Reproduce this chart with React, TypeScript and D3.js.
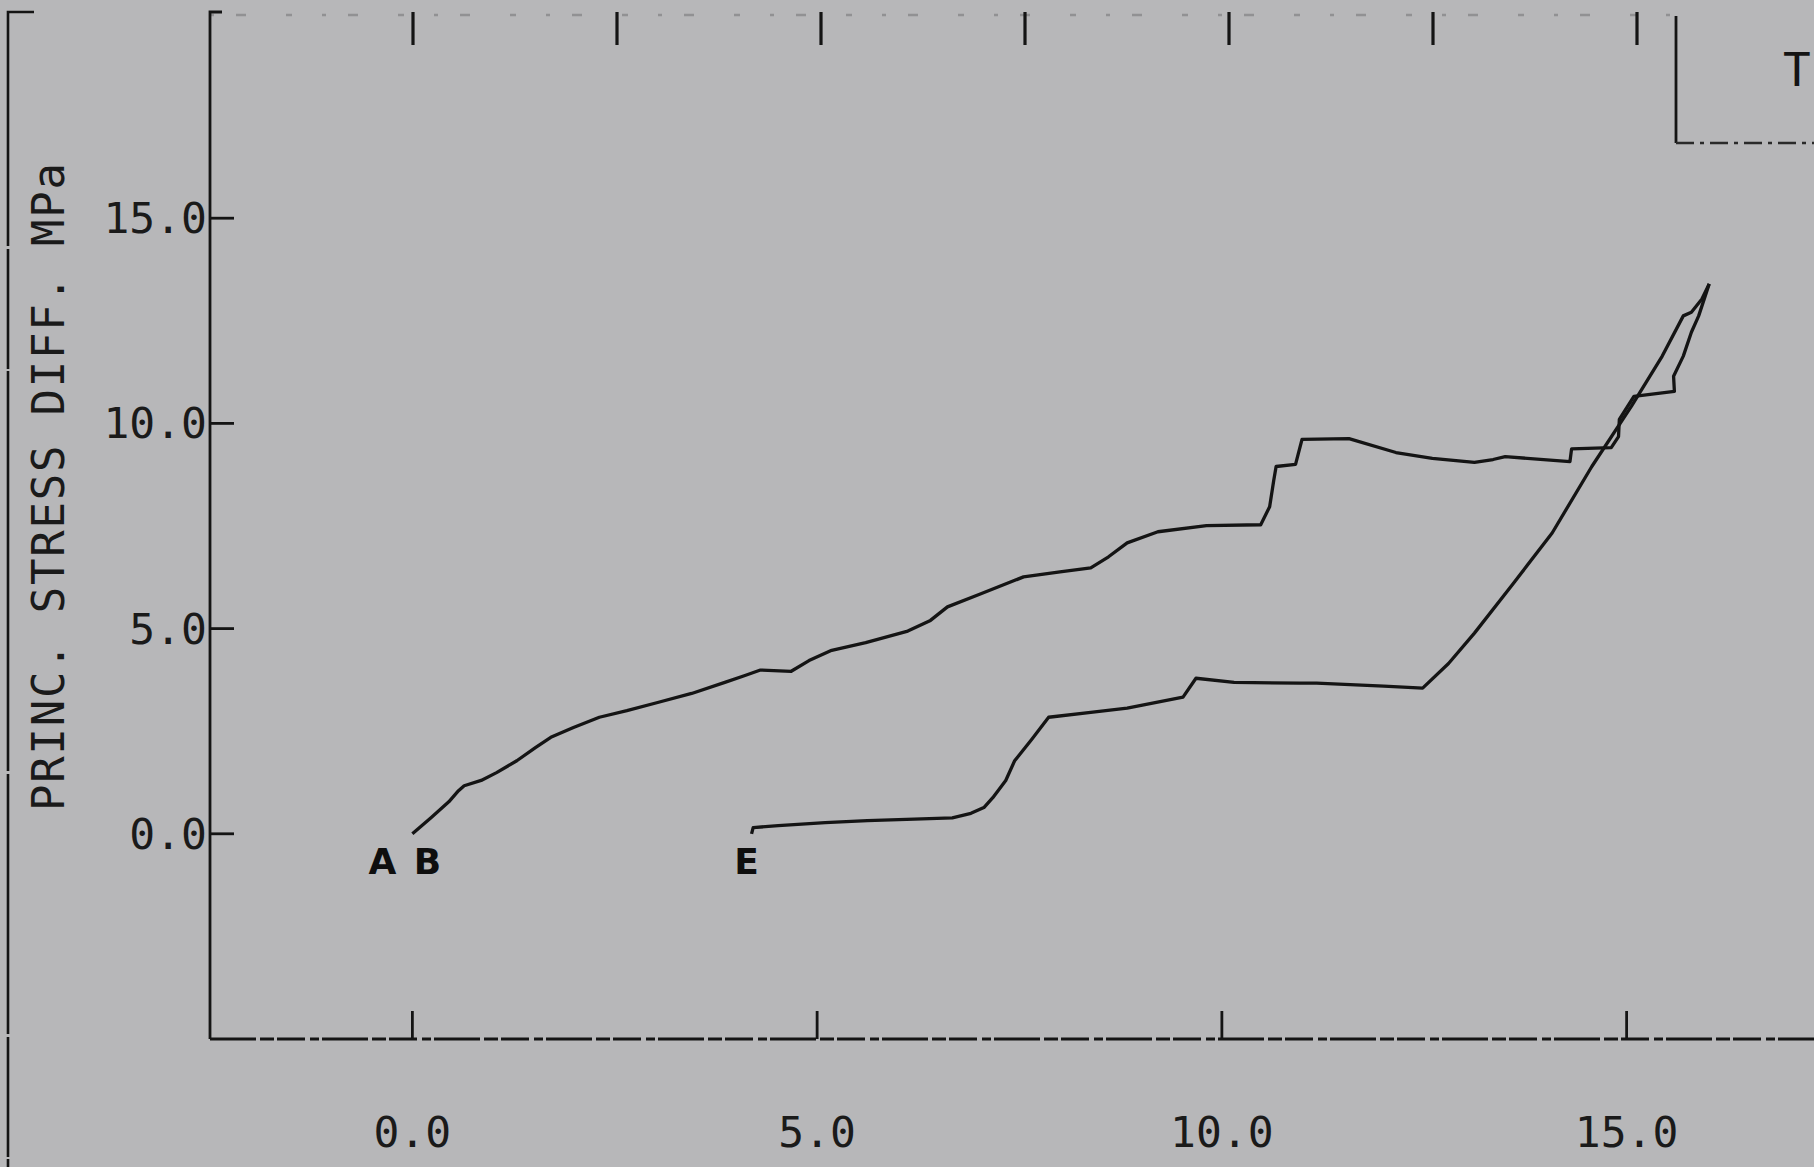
import * as d3 from "d3";

// stress-difference paths (x, MPa)
const curveAB: [number, number][] = [
  [0, 0], [0.23, 0.39], [0.45, 0.78], [0.57, 1.05], [0.64, 1.17], [0.85, 1.3],
  [1.04, 1.49], [1.29, 1.78], [1.52, 2.1], [1.71, 2.35], [1.99, 2.59], [2.31, 2.84],
  [2.65, 3.0], [3.03, 3.2], [3.45, 3.42], [3.86, 3.69], [4.1, 3.85], [4.3, 3.99],
  [4.68, 3.96], [4.9, 4.22], [5.18, 4.47], [5.6, 4.66], [6.12, 4.94], [6.4, 5.2],
  [6.61, 5.53], [7.0, 5.83], [7.55, 6.26], [8.0, 6.38], [8.38, 6.48], [8.6, 6.75],
  [8.83, 7.09], [9.21, 7.36], [9.81, 7.51], [10.48, 7.53], [10.59, 7.97], [10.64, 8.6],
  [10.67, 8.95], [10.91, 9.0], [10.99, 9.61], [11.57, 9.63], [12.15, 9.29], [12.6, 9.15],
  [13.12, 9.05], [13.35, 9.12], [13.5, 9.19], [14.3, 9.07], [14.32, 9.38], [14.81, 9.41],
  [14.9, 9.68], [14.91, 10.1], [15.09, 10.66], [15.59, 10.78], [15.58, 11.15],
  [15.7, 11.64], [15.8, 12.22], [15.89, 12.62], [16.02, 13.4],
];

const curveE: [number, number][] = [
  [4.19, 0.0], [4.21, 0.15], [4.52, 0.2], [5.1, 0.27], [5.62, 0.32], [6.2, 0.36],
  [6.67, 0.39], [6.9, 0.5], [7.06, 0.64], [7.17, 0.88], [7.33, 1.3], [7.44, 1.78],
  [7.65, 2.3], [7.86, 2.84], [8.38, 2.96], [8.83, 3.06], [9.52, 3.33], [9.68, 3.79],
  [10.15, 3.69], [10.96, 3.67], [11.17, 3.67], [12.0, 3.6], [12.48, 3.55],
  [12.8, 4.15], [13.12, 4.89], [13.6, 6.1], [14.08, 7.33], [14.57, 8.95], [15.06, 10.42],
  [15.44, 11.64], [15.7, 12.62], [15.8, 12.71], [15.93, 13.03], [16.02, 13.4],
];

const xTicks = [0, 5, 10, 15];
const yTicks = [0, 5, 10, 15];
const topTicks = [0, 2.5, 5, 7.5, 10, 12.5, 15];
const yTitle = "PRINC. STRESS DIFF. MPa";

const pointLabels = [
  { text: "A", at: curveAB[0], dx: -30 },
  { text: "B", at: curveAB[0], dx: 15 },
  { text: "E", at: curveE[0], dx: -5 },
];

const W = 1814;
const H = 1167;
const ink = "#141414";
const mono = "'DejaVu Sans Mono', 'Liberation Mono', monospace";

export default function App() {
  const x = d3.scaleLinear().domain([-2.5, 17.5]).range([210, 1829]);
  const y = d3.scaleLinear().domain([-5, 20]).range([1039, 13]);
  const topX = d3.scaleLinear().domain([0, 15]).range([413, 1637]);

  const line = d3
    .line<[number, number]>()
    .x((d) => x(d[0]))
    .y((d) => y(d[1]));

  const x0 = x(-2.5);
  const yBottom = y(-5);
  const yTop = 12;

  return (
    <svg
      width={W}
      height={H}
      style={{ position: "absolute", left: 0, top: 0, display: "block" }}
    >
      <rect width={W} height={H} fill="#b7b7b9" />

      {/* page frame on the left */}
      <path
        d={`M34,${yTop} H8 V${H}`}
        fill="none"
        stroke={ink}
        strokeWidth={2.6}
        strokeDasharray="260 3 120 2 400 3"
      />

      {/* faint top border */}
      <line
        x1={x0}
        x2={1676}
        y1={yTop + 3}
        y2={yTop + 3}
        stroke="#3a3a3a"
        strokeOpacity={0.3}
        strokeWidth={2.5}
        strokeDasharray="4 22 10 40 6 30"
      />

      {/* y axis */}
      <path
        d={`M${x0 + 12},${yTop} H${x0} V${yBottom}`}
        fill="none"
        stroke={ink}
        strokeWidth={2.8}
      />
      {yTicks.map((t) => (
        <g key={t}>
          <line x1={x0} x2={x0 + 24} y1={y(t)} y2={y(t)} stroke={ink} strokeWidth={2.8} />
          <text
            x={x0 - 3}
            y={y(t)}
            textAnchor="end"
            dominantBaseline="central"
            fontFamily={mono}
            fontSize={43}
            fill="#1a1a1a"
            style={{ fontVariantNumeric: "slashed-zero" }}
          >
            {t.toFixed(1)}
          </text>
        </g>
      ))}

      {/* x axis */}
      <line
        x1={x0}
        x2={W}
        y1={yBottom}
        y2={yBottom}
        stroke={ink}
        strokeWidth={2.8}
        strokeDasharray="46 4 14 3 28 5 9 3"
      />
      {xTicks.map((t) => (
        <g key={t}>
          <line x1={x(t)} x2={x(t)} y1={yBottom} y2={yBottom - 28} stroke={ink} strokeWidth={2.8} />
          <text
            x={x(t)}
            y={1132}
            textAnchor="middle"
            dominantBaseline="central"
            fontFamily={mono}
            fontSize={43}
            fill="#1a1a1a"
            style={{ fontVariantNumeric: "slashed-zero" }}
          >
            {t.toFixed(1)}
          </text>
        </g>
      ))}

      {/* ticks hanging from the top edge */}
      {topTicks.map((t) => (
        <line key={t} x1={topX(t)} x2={topX(t)} y1={yTop} y2={yTop + 33} stroke={ink} strokeWidth={3.2} />
      ))}

      {/* box at the top right */}
      <line x1={1676} x2={1676} y1={yTop + 4} y2={143} stroke={ink} strokeWidth={2.8} />
      <line
        x1={1676}
        x2={W}
        y1={143}
        y2={143}
        stroke="#2a2a2a"
        strokeWidth={2.4}
        strokeDasharray="18 6 4 6"
      />
      <text x={1783} y={70} dominantBaseline="central" fontFamily={mono} fontSize={46} fill={ink}>
        T
      </text>

      {/* y axis title */}
      <text
        transform={`translate(48,487) rotate(-90)`}
        textAnchor="middle"
        dominantBaseline="central"
        fontFamily={mono}
        fontSize={44}
        fill="#1a1a1a"
        textLength={648}
        lengthAdjust="spacing"
      >
        {yTitle}
      </text>

      {/* curves */}
      <path d={line(curveAB) ?? ""} fill="none" stroke={ink} strokeWidth={3.3} strokeLinejoin="round" />
      <path d={line(curveE) ?? ""} fill="none" stroke={ink} strokeWidth={3.3} strokeLinejoin="round" />

      {pointLabels.map((l) => (
        <text
          key={l.text}
          x={x(l.at[0]) + l.dx}
          y={y(l.at[1]) + 40}
          textAnchor="middle"
          fontFamily="'DejaVu Sans', sans-serif"
          fontWeight="bold"
          fontSize={36}
          fill="#0e0e0e"
        >
          {l.text}
        </text>
      ))}
    </svg>
  );
}
